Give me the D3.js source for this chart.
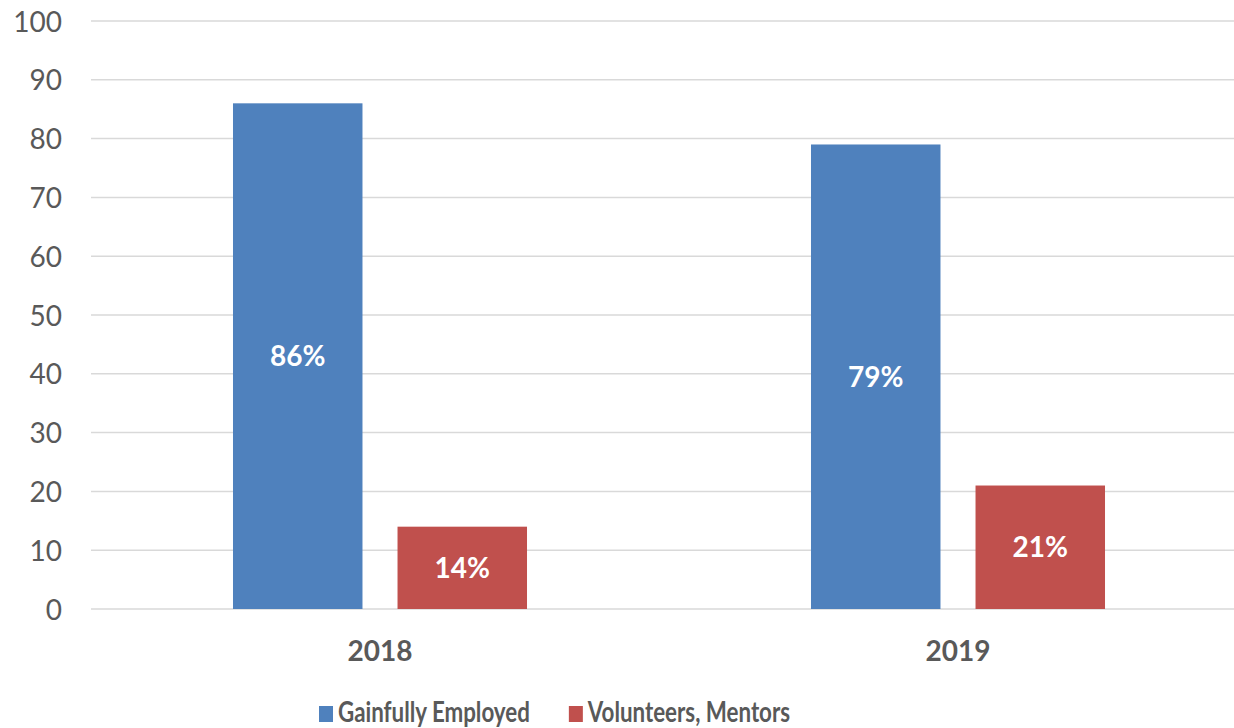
<!DOCTYPE html>
<html>
<head>
<meta charset="utf-8">
<script src="https://cdn.jsdelivr.net/npm/d3@7"></script>
<style>
  body { margin: 0; background: #fff; }
  text { font-family: Lato, "Open Sans", sans-serif; }
</style>
</head>
<body>
<svg id="canvas_svg" width="1234" height="728"></svg>
<script>
// chart data
var years = ["2018", "2019"];
var seriesNames = ["Gainfully Employed", "Volunteers, Mentors"];
var employed = [86, 79];
var volunteers = [14, 21];
var yTicks = [0, 10, 20, 30, 40, 50, 60, 70, 80, 90, 100];
var colours = ["#4F81BD", "#C0504D"];

var svg = d3.select("#canvas_svg");

var plotLeft = 91, plotRight = 1247, plotTop = 21, plotBottom = 609;

var x0 = d3.scaleBand()
  .domain(years)
  .range([plotLeft, plotRight]);

var x1 = d3.scaleBand()
  .domain(seriesNames)
  .range([0, x0.bandwidth()])
  .paddingInner(0.213)
  .paddingOuter(0.863);

var y = d3.scaleLinear()
  .domain([0, 100])
  .range([plotBottom, plotTop]);

// gridlines
svg.append("g")
  .selectAll("line")
  .data(yTicks)
  .enter()
  .append("line")
  .attr("x1", plotLeft)
  .attr("x2", 1234)
  .attr("y1", d => y(d))
  .attr("y2", d => y(d))
  .attr("stroke", "#d9d9d9")
  .attr("stroke-width", 1.5);

// y axis labels
var yAxis = d3.axisLeft(y).tickValues(yTicks).tickSize(0).tickPadding(0);
var yg = svg.append("g")
  .attr("transform", "translate(62,0)")
  .call(yAxis);
yg.select(".domain").remove();
yg.selectAll("text")
  .attr("font-size", 28)
  .attr("fill", "#595959")
  .attr("dy", "0.36em")
  .style("font-family", "Lato, sans-serif");

// bars
var rows = years.map((yr, i) => ({
  year: yr,
  values: [
    {name: seriesNames[0], value: employed[i], colour: colours[0]},
    {name: seriesNames[1], value: volunteers[i], colour: colours[1]}
  ]
}));

var groups = svg.append("g")
  .selectAll("g")
  .data(rows)
  .enter()
  .append("g")
  .attr("transform", d => "translate(" + x0(d.year) + ",0)");

groups.selectAll("rect")
  .data(d => d.values)
  .enter()
  .append("rect")
  .attr("x", d => x1(d.name))
  .attr("width", x1.bandwidth())
  .attr("y", d => y(d.value))
  .attr("height", d => y(0) - y(d.value))
  .attr("fill", d => d.colour);

groups.selectAll("text")
  .data(d => d.values)
  .enter()
  .append("text")
  .attr("x", d => x1(d.name) + x1.bandwidth() / 2)
  .attr("y", d => (y(d.value) + y(0)) / 2)
  .attr("dy", "0.36em")
  .attr("text-anchor", "middle")
  .attr("font-size", 28)
  .attr("font-weight", "bold")
  .attr("fill", "#fff")
  .text(d => d.value + "%");

// category labels
svg.append("g")
  .selectAll("text")
  .data(years)
  .enter()
  .append("text")
  .attr("x", d => x0(d) + x0.bandwidth() / 2)
  .attr("y", 661)
  .attr("text-anchor", "middle")
  .attr("font-size", 28)
  .attr("font-weight", "bold")
  .attr("fill", "#595959")
  .text(d => d);

// legend
var squish = 0.77;
var legend = svg.append("g").attr("transform", "translate(319,0)");
var lx = 0;
seriesNames.forEach((name, i) => {
  var item = legend.append("g").attr("transform", "translate(" + lx + ",0)");
  item.append("rect")
    .attr("x", 0)
    .attr("y", 706)
    .attr("width", 14)
    .attr("height", 16)
    .attr("fill", colours[i]);
  var t = item.append("text")
    .attr("x", 19)
    .attr("y", 722)
    .attr("font-size", 29)
    .attr("font-weight", "bold")
    .attr("fill", "#595959")
    .attr("transform", "translate(19,0) scale(" + squish + ",1) translate(-19,0)")
    .text(name);
  lx += 19 + t.node().getComputedTextLength() * squish + 39;
});
</script>
</body>
</html>
